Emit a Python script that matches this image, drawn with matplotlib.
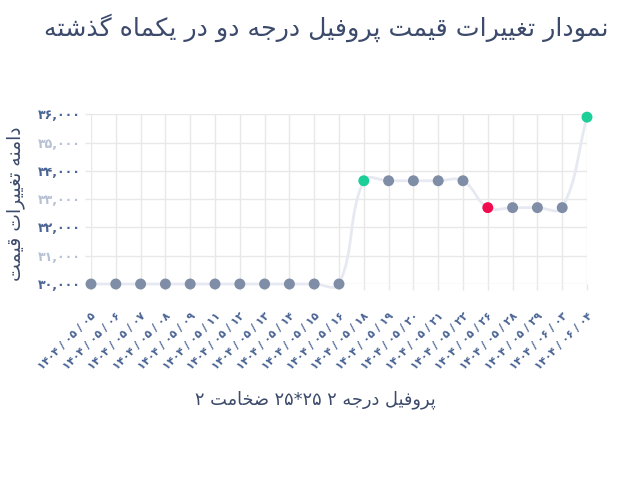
import matplotlib
matplotlib.use("Agg")
import matplotlib.pyplot as plt
from matplotlib.path import Path
from matplotlib.patches import PathPatch
from math import sqrt

# data
dates = ["1404/05/05", "1404/05/06", "1404/05/07", "1404/05/08", "1404/05/09",
         "1404/05/11", "1404/05/12", "1404/05/13", "1404/05/14", "1404/05/15",
         "1404/05/16", "1404/05/18", "1404/05/19", "1404/05/20", "1404/05/21",
         "1404/05/22", "1404/05/26", "1404/05/28", "1404/05/29", "1404/06/03",
         "1404/06/04"]
prices = [30000, 30000, 30000, 30000, 30000, 30000, 30000, 30000, 30000, 30000,
          30000, 33650, 33650, 33650, 33650, 33650, 32700, 32700, 32700, 32700,
          35900]
y_ticks = [30000, 31000, 32000, 33000, 34000, 35000, 36000]

title = "نمودار تغییرات قیمت پروفیل درجه دو در یکماه گذشته"
y_title = "دامنه تغییرات قیمت"
x_title = "پروفیل درجه ۲ ۲۵*۲۵ ضخامت ۲"

FA_DIGITS = str.maketrans("0123456789", "۰۱۲۳۴۵۶۷۸۹")

# presentation forms: isolated, final, initial, medial
FORMS = {
    "ا": (0xFE8D, 0xFE8E, None, None),
    "ب": (0xFE8F, 0xFE90, 0xFE91, 0xFE92),
    "پ": (0xFB56, 0xFB57, 0xFB58, 0xFB59),
    "ت": (0xFE95, 0xFE96, 0xFE97, 0xFE98),
    "ج": (0xFE9D, 0xFE9E, 0xFE9F, 0xFEA0),
    "خ": (0xFEA5, 0xFEA6, 0xFEA7, 0xFEA8),
    "د": (0xFEA9, 0xFEAA, None, None),
    "ذ": (0xFEAB, 0xFEAC, None, None),
    "ر": (0xFEAD, 0xFEAE, None, None),
    "ش": (0xFEB5, 0xFEB6, 0xFEB7, 0xFEB8),
    "ض": (0xFEBD, 0xFEBE, 0xFEBF, 0xFEC0),
    "غ": (0xFECD, 0xFECE, 0xFECF, 0xFED0),
    "ف": (0xFED1, 0xFED2, 0xFED3, 0xFED4),
    "ق": (0xFED5, 0xFED6, 0xFED7, 0xFED8),
    "ک": (0xFB8E, 0xFB8F, 0xFB90, 0xFB91),
    "گ": (0xFB92, 0xFB93, 0xFB94, 0xFB95),
    "ل": (0xFEDD, 0xFEDE, 0xFEDF, 0xFEE0),
    "م": (0xFEE1, 0xFEE2, 0xFEE3, 0xFEE4),
    "ن": (0xFEE5, 0xFEE6, 0xFEE7, 0xFEE8),
    "ه": (0xFEE9, 0xFEEA, 0xFEEB, 0xFEEC),
    "و": (0xFEED, 0xFEEE, None, None),
    "ی": (0xFBFC, 0xFBFD, 0xFBFE, 0xFBFF),
}


def shape_word(w):
    out = []
    for i, ch in enumerate(w):
        if ch not in FORMS:
            out.append(ch)
            continue
        prev = w[i-1] if i > 0 else None
        nxt = w[i+1] if i < len(w)-1 else None
        join_prev = prev in FORMS and FORMS[prev][2] is not None
        join_next = nxt in FORMS and FORMS[ch][2] is not None
        f = FORMS[ch]
        if join_prev and join_next:
            code = f[3]
        elif join_prev:
            code = f[1]
        elif join_next:
            code = f[2]
        else:
            code = f[0]
        out.append(chr(code))
    return "".join(out)


def rtl(s):
    words = s.split(" ")
    vis = []
    for w in reversed(words):
        if any(c in FORMS for c in w):
            vis.append(shape_word(w)[::-1])
        else:
            vis.append(w)
    return " ".join(vis)


def fa_num(v):
    return f"{v:,}".translate(FA_DIGITS)


def fa_date(d):
    return " / ".join(d.split("/")).translate(FA_DIGITS)


def spline_controls(xs, ys, sx, sy, t=0.4):
    # chart.js style spline, distances in pixel units
    px = [x * sx for x in xs]
    py = [y * sy for y in ys]
    n = len(px)
    ctrl = []
    for i in range(n):
        p0 = (px[max(i-1, 0)], py[max(i-1, 0)])
        p1 = (px[i], py[i])
        p2 = (px[min(i+1, n-1)], py[min(i+1, n-1)])
        d01 = sqrt((p1[0]-p0[0])**2 + (p1[1]-p0[1])**2)
        d12 = sqrt((p2[0]-p1[0])**2 + (p2[1]-p1[1])**2)
        tot = d01 + d12
        s01 = d01 / tot if tot else 0
        s12 = d12 / tot if tot else 0
        fa, fb = t * s01, t * s12
        prev_c = (p1[0] - fa*(p2[0]-p0[0]), p1[1] - fa*(p2[1]-p0[1]))
        next_c = (p1[0] + fb*(p2[0]-p0[0]), p1[1] + fb*(p2[1]-p0[1]))
        ctrl.append(((prev_c[0]/sx, prev_c[1]/sy), (next_c[0]/sx, next_c[1]/sy)))
    return ctrl


fig = plt.figure(figsize=(6.35, 4.78), dpi=100)
ax = fig.add_axes([91/635, 1-284/478, 496/635, 169.7/478])

xs = list(range(len(prices)))
ax.set_xlim(0, len(prices)-1)
ax.set_ylim(30000, 36000)

# smooth line
sx = 496 / (len(prices)-1)
sy = 169.7 / 6000
ctrl = spline_controls(xs, prices, sx, sy)
verts = [(xs[0], prices[0])]
codes = [Path.MOVETO]
for i in range(len(xs)-1):
    verts += [ctrl[i][1], ctrl[i+1][0], (xs[i+1], prices[i+1])]
    codes += [Path.CURVE4] * 3
ax.add_patch(PathPatch(Path(verts, codes), fill=False, edgecolor="#e6e9f1",
                       lw=2, zorder=2, clip_on=False))

colors = []
for i, p in enumerate(prices):
    if i > 0 and p > prices[i-1]:
        colors.append("#1ccf98")
    elif i > 0 and p < prices[i-1]:
        colors.append("#f20a4e")
    else:
        colors.append("#7f8ea6")
ax.scatter(xs, prices, s=62, c=colors, zorder=3, clip_on=False, linewidths=0)

grid_c = "#e8e8e8"
ax.grid(True, color=grid_c, lw=1)
ax.set_axisbelow(True)
for sp in ax.spines.values():
    sp.set_visible(False)

ax.set_xticks(xs)
ax.set_xticklabels([fa_date(d) for d in dates], rotation=45, ha="right",
                   va="top", rotation_mode="anchor", fontsize=7.8,
                   fontweight="bold", color="#4a6494")
ax.set_yticks(y_ticks)
ax.set_yticklabels([fa_num(v) for v in y_ticks], fontsize=9,
                   fontweight="bold")
for i, lab in enumerate(ax.get_yticklabels()):
    lab.set_color("#4a6494" if i % 2 == 0 else "#b7c1d4")
ax.tick_params(axis="both", color=grid_c, length=4.5, width=1)
ax.tick_params(axis="x", pad=15)
ax.tick_params(axis="y", pad=3)

fig.text(0.514, 1-28/478, rtl(title), ha="center", va="center",
         fontsize=18.2, color="#3c4a6b")
fig.text(16/635, 1-204/478, rtl(y_title), ha="center", va="center",
         rotation=90, fontsize=13.5, color="#3c4a6b")
fig.text(315/635, 1-400/478, rtl(x_title), ha="center", va="center",
         fontsize=12.8, color="#3c4a6b")

fig.savefig("out.png", dpi=100)
